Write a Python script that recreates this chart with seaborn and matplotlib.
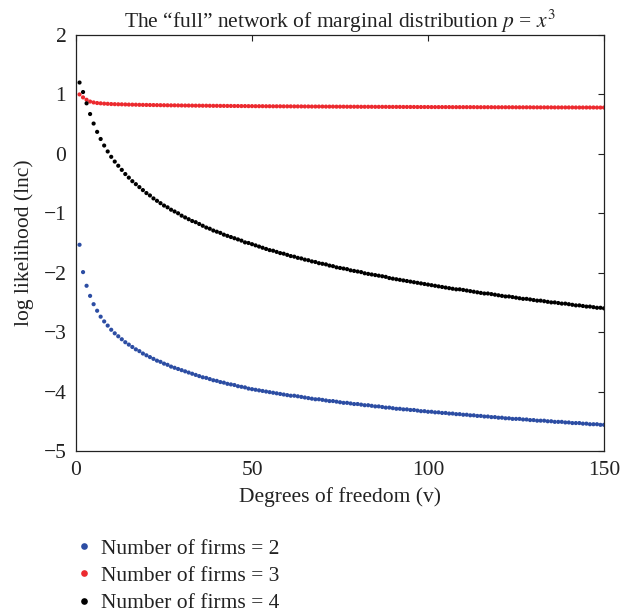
import matplotlib
matplotlib.use("Agg")
import matplotlib.pyplot as plt
import pandas as pd
import seaborn as sns

# Degrees of freedom (x values)
dof = list(range(1, 151))

# Number of firms = 2 (blue)
firms2 = [
    -1.53, -1.99, -2.22, -2.39, -2.53, -2.64, -2.74, -2.82, -2.89, -2.96,
    -3.02, -3.07, -3.12, -3.17, -3.21, -3.25, -3.29, -3.32, -3.36, -3.39,
    -3.42, -3.45, -3.48, -3.50, -3.53, -3.55, -3.58, -3.60, -3.62, -3.64,
    -3.66, -3.68, -3.70, -3.72, -3.74, -3.76, -3.77, -3.79, -3.81, -3.82,
    -3.84, -3.85, -3.87, -3.88, -3.89, -3.91, -3.92, -3.93, -3.95, -3.96,
    -3.97, -3.98, -3.99, -4.00, -4.01, -4.02, -4.03, -4.04, -4.05, -4.06,
    -4.07, -4.07, -4.08, -4.09, -4.10, -4.11, -4.12, -4.13, -4.13, -4.14,
    -4.15, -4.16, -4.16, -4.17, -4.18, -4.19, -4.19, -4.20, -4.21, -4.21,
    -4.22, -4.23, -4.23, -4.24, -4.25, -4.25, -4.26, -4.27, -4.27, -4.28,
    -4.29, -4.29, -4.30, -4.30, -4.31, -4.31, -4.32, -4.33, -4.33, -4.34,
    -4.34, -4.35, -4.35, -4.36, -4.36, -4.37, -4.37, -4.38, -4.38, -4.39,
    -4.39, -4.40, -4.40, -4.41, -4.41, -4.42, -4.42, -4.43, -4.43, -4.44,
    -4.44, -4.45, -4.45, -4.46, -4.46, -4.46, -4.47, -4.47, -4.48, -4.48,
    -4.49, -4.49, -4.49, -4.50, -4.50, -4.51, -4.51, -4.51, -4.52, -4.52,
    -4.53, -4.53, -4.53, -4.54, -4.54, -4.55, -4.55, -4.55, -4.56, -4.56,
]

# Number of firms = 3 (red)
firms3 = [
    1.00, 0.95, 0.91, 0.88, 0.865, 0.855, 0.85, 0.845, 0.842, 0.838,
    0.836, 0.834, 0.833, 0.831, 0.829, 0.828, 0.827, 0.825, 0.824, 0.823,
    0.822, 0.821, 0.820, 0.819, 0.818, 0.817, 0.816, 0.816, 0.815, 0.814,
    0.813, 0.813, 0.812, 0.811, 0.811, 0.810, 0.810, 0.809, 0.808, 0.808,
    0.807, 0.807, 0.806, 0.806, 0.805, 0.805, 0.804, 0.804, 0.803, 0.803,
    0.802, 0.802, 0.802, 0.801, 0.801, 0.800, 0.800, 0.800, 0.799, 0.799,
    0.799, 0.798, 0.798, 0.798, 0.797, 0.797, 0.796, 0.796, 0.796, 0.796,
    0.795, 0.795, 0.795, 0.794, 0.794, 0.794, 0.793, 0.793, 0.793, 0.793,
    0.792, 0.792, 0.792, 0.792, 0.791, 0.791, 0.791, 0.791, 0.790, 0.790,
    0.790, 0.790, 0.789, 0.789, 0.789, 0.789, 0.788, 0.788, 0.788, 0.788,
    0.787, 0.787, 0.787, 0.787, 0.787, 0.787, 0.786, 0.786, 0.786, 0.786,
    0.786, 0.786, 0.786, 0.785, 0.785, 0.785, 0.785, 0.785, 0.784, 0.784,
    0.784, 0.784, 0.784, 0.784, 0.783, 0.783, 0.783, 0.783, 0.783, 0.782,
    0.782, 0.782, 0.782, 0.782, 0.782, 0.781, 0.781, 0.781, 0.781, 0.781,
    0.781, 0.780, 0.780, 0.780, 0.780, 0.780, 0.780, 0.779, 0.779, 0.779,
]

# Number of firms = 4 (black)
firms4 = [
    1.20, 1.04, 0.85, 0.67, 0.51, 0.37, 0.25, 0.14, 0.04, -0.05,
    -0.13, -0.20, -0.27, -0.34, -0.40, -0.46, -0.51, -0.56, -0.61, -0.66,
    -0.70, -0.75, -0.79, -0.83, -0.87, -0.90, -0.94, -0.97, -1.00, -1.04,
    -1.07, -1.10, -1.13, -1.15, -1.18, -1.21, -1.24, -1.26, -1.29, -1.31,
    -1.33, -1.36, -1.38, -1.40, -1.42, -1.44, -1.46, -1.49, -1.50, -1.52,
    -1.54, -1.56, -1.58, -1.60, -1.62, -1.63, -1.65, -1.67, -1.68, -1.70,
    -1.72, -1.73, -1.75, -1.76, -1.78, -1.79, -1.81, -1.82, -1.84, -1.85,
    -1.86, -1.88, -1.89, -1.91, -1.92, -1.93, -1.94, -1.96, -1.97, -1.98,
    -1.99, -2.01, -2.02, -2.03, -2.04, -2.05, -2.06, -2.07, -2.09, -2.10,
    -2.11, -2.12, -2.13, -2.14, -2.15, -2.16, -2.17, -2.18, -2.19, -2.20,
    -2.21, -2.22, -2.23, -2.24, -2.25, -2.26, -2.27, -2.28, -2.28, -2.29,
    -2.30, -2.31, -2.32, -2.33, -2.34, -2.35, -2.35, -2.36, -2.37, -2.38,
    -2.39, -2.40, -2.40, -2.41, -2.42, -2.43, -2.44, -2.44, -2.45, -2.46,
    -2.47, -2.47, -2.48, -2.49, -2.50, -2.50, -2.51, -2.52, -2.52, -2.53,
    -2.54, -2.55, -2.55, -2.56, -2.57, -2.57, -2.58, -2.59, -2.59, -2.60,
]

labels = ["Number of firms = 2", "Number of firms = 3", "Number of firms = 4"]
colors = ["#2c4da3", "#ec2a2f", "#000000"]
xticks = [0, 50, 100, 150]
yticks = [-5, -4, -3, -2, -1, 0, 1, 2]

sns.set_style("white")
plt.rcParams["font.family"] = ["Liberation Serif", "DejaVu Serif"]
plt.rcParams["mathtext.fontset"] = "stix"
plt.rcParams["axes.unicode_minus"] = True

frames = []
for lab, vals in zip(labels, [firms2, firms3, firms4]):
    frames.append(pd.DataFrame({"v": dof, "lnc": vals, "series": lab}))
df = pd.concat(frames, ignore_index=True)

fig = plt.figure(figsize=(6.2, 6.15), dpi=100)
ax = fig.add_axes([0.1226, 0.2667, 0.8516, 0.6764])

sns.scatterplot(data=df, x="v", y="lnc", hue="series", hue_order=labels,
                palette=dict(zip(labels, colors)), s=9, linewidth=0,
                ax=ax, legend=True)

FS = 15.5
ax.set_xlim(0, 150)
ax.set_ylim(-5, 2)
ax.set_xticks(xticks)
ax.set_yticks(yticks)
ax.tick_params(direction="in", length=4.5, width=0.8, top=True, right=True,
               labelsize=FS, pad=7, colors="#222222", labelcolor="#222222")
for sp in ax.spines.values():
    sp.set_linewidth(0.9)
    sp.set_color("#222222")
    sp.set_visible(True)

ax.set_xlabel("Degrees of freedom (v)", fontsize=FS, labelpad=5, color="#222222")
ax.set_ylabel("log likelihood (lnc)", fontsize=FS, labelpad=7, color="#222222")
ax.set_title("The \u201cfull\u201d network of marginal distribution $p$ = $x^3$",
             fontsize=FS, pad=5, color="#222222")

handles, hlabels = ax.get_legend_handles_labels()
ax.get_legend().remove()
fig.legend(handles, hlabels, loc="upper left", bbox_to_anchor=(0.118, 0.124),
           frameon=False, fontsize=FS, handlelength=1.0, handletextpad=0.3,
           labelspacing=0.33, borderpad=0, borderaxespad=0, markerscale=1.6,
           labelcolor="#222222")

fig.savefig("out.png", dpi=100)
